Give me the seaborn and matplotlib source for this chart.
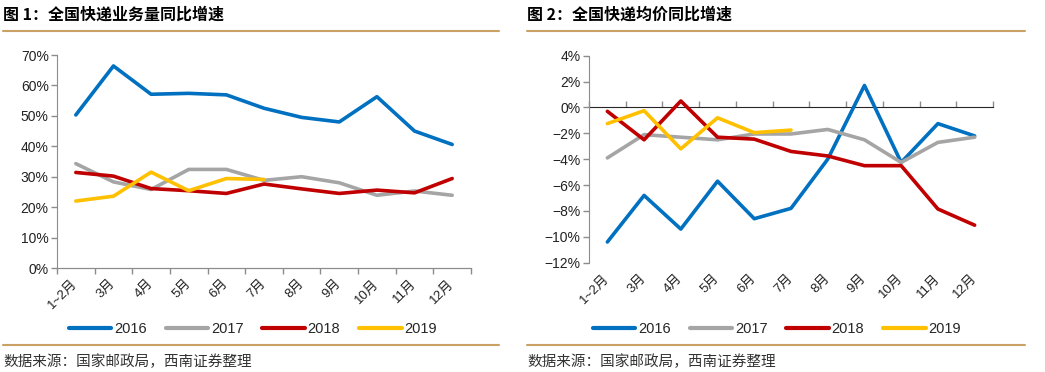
import pandas as pd
import seaborn as sns
import numpy as np
import matplotlib.pyplot as plt
from matplotlib.ticker import PercentFormatter, FixedLocator, NullFormatter, NullLocator

months = ["1~2月", "3月", "4月", "5月", "6月", "7月", "8月", "9月", "10月", "11月", "12月"]
years = ["2016", "2017", "2018", "2019"]

# 图1 业务量同比
vol_2016 = [0.503, 0.664, 0.571, 0.574, 0.569, 0.525, 0.495, 0.480, 0.563, 0.450, 0.406]
vol_2017 = [0.343, 0.283, 0.258, 0.324, 0.324, 0.288, 0.300, 0.280, 0.239, 0.253, 0.239]
vol_2018 = [0.314, 0.302, 0.261, 0.254, 0.245, 0.276, 0.260, 0.245, 0.256, 0.247, 0.294]
vol_2019 = [0.220, 0.236, 0.315, 0.254, 0.294, 0.291, None, None, None, None, None]

# 图2 均价同比
prc_2016 = [-0.104, -0.068, -0.094, -0.057, -0.086, -0.078, -0.040, 0.017, -0.0425, -0.0125, -0.022]
prc_2017 = [-0.039, -0.021, -0.023, -0.025, -0.0205, -0.0205, -0.017, -0.025, -0.0425, -0.027, -0.023]
prc_2018 = [-0.003, -0.025, 0.005, -0.023, -0.0245, -0.034, -0.0375, -0.045, -0.045, -0.0785, -0.091]
prc_2019 = [-0.0125, -0.0025, -0.032, -0.008, -0.0195, -0.0175, None, None, None, None, None]

palette = {"2016": "#0070C0", "2017": "#A5A5A5", "2018": "#C00000", "2019": "#FFC000"}
gold = "#C9A165"
axis_col = "#8C8C8C"

sns.set_style("white")
plt.rcParams["font.family"] = ["Liberation Sans", "Noto Sans CJK SC", "DejaVu Sans"]


def long_df(series):
    rows = []
    for y, vals in zip(years, series):
        for i, v in enumerate(vals):
            if v is not None:
                rows.append({"pos": i, "month": months[i], "year": y, "val": v})
    return pd.DataFrame(rows)


def style_axes(ax, ylo, yhi, step, zero_frac=None):
    ax.set_xlim(-0.5, len(months) - 0.5)
    ax.set_ylim(ylo, yhi)
    ax.set_yticks(np.arange(ylo, yhi + step / 2, step))
    ax.yaxis.set_major_formatter(PercentFormatter(1.0, decimals=0))
    ax.xaxis.set_major_locator(NullLocator())
    ax.xaxis.set_minor_locator(FixedLocator(range(len(months))))
    ax.set_xticks(range(len(months)), minor=True)
    ax.set_xticklabels(months, minor=True, rotation=45, ha="right", va="center",
                       rotation_mode="anchor", fontsize=9.5, color="#222222")
    ax.tick_params(axis="x", which="minor", length=0, pad=10)
    ax.tick_params(axis="y", length=4, width=1, color=axis_col, labelsize=10,
                   labelcolor="#222222", pad=2, left=True)
    for s in ["top", "right"]:
        ax.spines[s].set_visible(False)
    ax.spines["left"].set_color(axis_col)
    ax.set_xlabel("")
    ax.set_ylabel("")
    bounds = np.arange(-0.5, len(months), 1.0)
    if zero_frac is None:
        ax.spines["bottom"].set_color(axis_col)
        sec = ax.secondary_xaxis("bottom")
    else:
        ax.spines["bottom"].set_visible(False)
        sec = ax.secondary_xaxis(zero_frac)
        sec.spines["bottom"].set_color(axis_col)
    sec.set_xticks(bounds)
    sec.xaxis.set_major_formatter(NullFormatter())
    sec.tick_params(axis="x", length=4, width=1, color=axis_col, direction="out")
    sec.spines["bottom"].set_color(axis_col)


fig = plt.figure(figsize=(10.45, 3.72), dpi=100)
W, H = 1045, 372

ax1 = fig.add_axes([57 / W, 1 - 268 / H, 414 / W, 213 / H])
ax2 = fig.add_axes([589 / W, 1 - 262.7 / H, 404 / W, 207 / H])

df1 = long_df([vol_2016, vol_2017, vol_2018, vol_2019])
df2 = long_df([prc_2016, prc_2017, prc_2018, prc_2019])

sns.lineplot(data=df1, x="pos", y="val", hue="year", palette=palette,
             linewidth=2.6, ax=ax1, sort=True)
sns.lineplot(data=df2, x="pos", y="val", hue="year", palette=palette,
             linewidth=2.6, ax=ax2, sort=True)

style_axes(ax1, 0.0, 0.70, 0.10)
style_axes(ax2, -0.12, 0.04, 0.02, zero_frac=(0 - (-0.12)) / (0.04 - (-0.12)))

for ax, cx in [(ax1, 253), (ax2, 777)]:
    h, l = ax.get_legend_handles_labels()
    ax.legend(h, l, ncol=4, loc="center", bbox_to_anchor=(cx / W, 1 - 329 / H),
              bbox_transform=fig.transFigure, frameon=False, fontsize=10.5,
              handlelength=2.9, handletextpad=0.2, columnspacing=1.3)
    for ln in ax.get_legend().get_lines():
        ln.set_linewidth(3)

# titles, gold rules, source
titles = [("图 1：全国快递业务量同比增速", 3, 499), ("图 2：全国快递均价同比增速", 527, 1025)]
for txt, x0, x1 in titles:
    fig.text(x0 / W, 1 - 15 / H, txt, fontsize=11.5, fontweight="heavy",
             family=["Noto Sans CJK SC"], va="center", ha="left", color="#000000")
    fig.add_artist(plt.Line2D([x0 / W, x1 / W], [1 - 31 / H, 1 - 31 / H],
                              color=gold, linewidth=1.5, transform=fig.transFigure))
    fig.add_artist(plt.Line2D([x0 / W, x1 / W], [1 - 345 / H, 1 - 345 / H],
                              color=gold, linewidth=1.5, transform=fig.transFigure))
    fig.text(x0 / W, 1 - 362 / H, "数据来源：国家邮政局，西南证券整理", fontsize=10.5,
             family=["Noto Sans CJK SC"], style="italic", va="center", ha="left",
             color="#333333")

fig.savefig("out.png", dpi=100, facecolor="white")
